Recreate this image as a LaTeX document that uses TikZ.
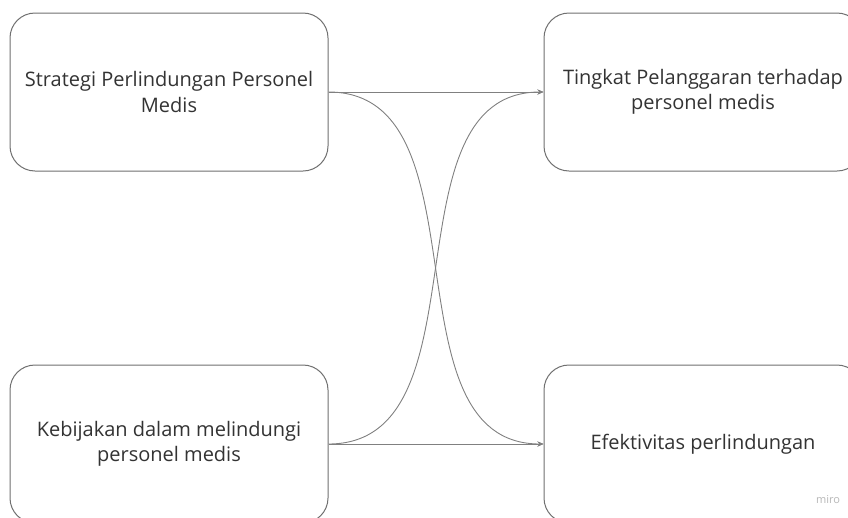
\documentclass[tikz,border=0pt]{standalone}
\usepackage{fontspec}
\setmainfont{Open Sans}
\usetikzlibrary{arrows.meta}
\definecolor{boxline}{HTML}{707070}
\definecolor{conn}{HTML}{808080}
\definecolor{txt}{HTML}{333333}
\tikzset{
  card/.style={draw=boxline, line width=1pt, rounded corners=25pt, fill=white,
    minimum width=318pt, minimum height=158pt, align=center, text=txt,
    font=\fontsize{20}{25.5}\selectfont, inner sep=0pt,
    execute at begin node={\vspace*{6pt}}},
  link/.style={draw=conn, line width=0.9pt, -{Stealth[length=6pt,width=5pt]}}
}
\begin{document}
\begin{tikzpicture}[x=1pt,y=1pt]
\useasboundingbox (0,0) rectangle (848,-517);
\clip (0,0) rectangle (848,-517);
\node[card] (tl) at (169,-92) {Strategi Perlindungan Personel\\Medis};
\node[card] (tr) at (703,-92) {Tingkat Pelanggaran terhadap\\personel medis};
\node[card] (bl) at (169,-444) {Kebijakan dalam melindungi\\personel medis};
\node[card] (br) at (703,-444) {Efektivitas perlindungan};
\draw[link] (tl.east) -- (tr.west);
\draw[link] (bl.east) -- (br.west);
\draw[link] (tl.east) to[out=0,in=180] (br.west);
\draw[link] (bl.east) to[out=0,in=180] (tr.west);
\node[text=black!28, font=\fontsize{11}{12}\selectfont] (miro) at (828,-500) {miro};
\end{tikzpicture}
\end{document}
